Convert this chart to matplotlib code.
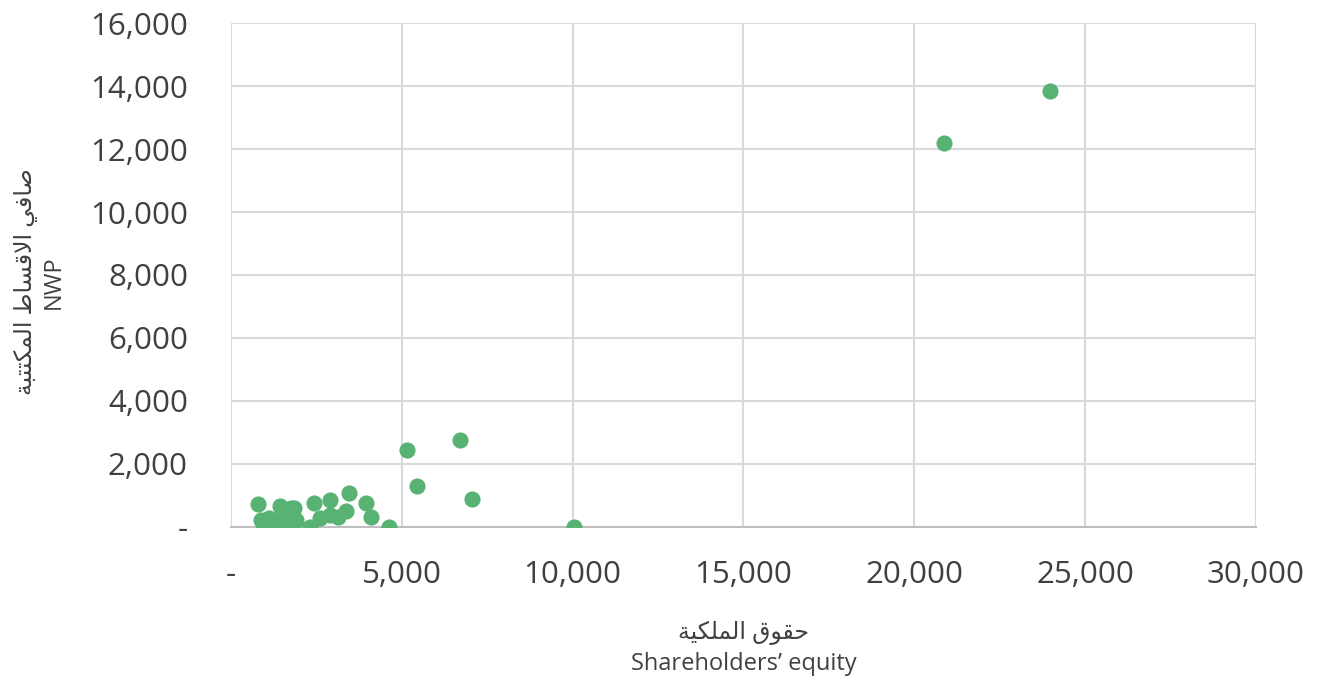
import matplotlib
matplotlib.use("Agg")
import matplotlib.pyplot as plt
from matplotlib.ticker import FuncFormatter

# shareholders' equity vs net written premiums
equity = [805, 1434, 1854, 2440, 2907, 3444, 3961, 4098, 4624, 3371,
          3122, 2888, 2615, 2312, 1902, 1610, 1512, 1649, 1317, 976,
          878, 1122, 1414, 1756, 1873, 5142, 6703, 5454, 7044, 10049,
          20873, 23971]
nwp = [730, 676, 613, 752, 857, 1090, 752, 307, 0, 518,
       307, 380, 275, 0, 222, 328, 487, 0, 0, 0,
       222, 275, 170, 600, 190, 2444, 2762, 1311, 889, 0,
       12190, 13841]

x_ticks = [0, 5000, 10000, 15000, 20000, 25000, 30000]
y_ticks = [0, 2000, 4000, 6000, 8000, 10000, 12000, 14000, 16000]

# Arabic labels written in presentation forms, visual order (matplotlib has no shaping)
x_label_ar = "\uFE94\uFEF4\uFEDC\uFEE0\uFEE4\uFEDF\uFE8D \uFED5\uFEEE\uFED8\uFEA3"
x_label_en = "Shareholders\u2019 equity"
y_label_ar = ("\uFE94\uFE92\uFE98\uFE98\uFEDC\uFEE4\uFEDF\uFE8D "
              "\uFEC1\uFE8E\uFEB4\uFED7\uFEFB\uFE8D "
              "\uFEF2\uFED3\uFE8E\uFEBB")
y_label_en = "NWP"

fonts = ["Open Sans", "DejaVu Sans"]
plt.rcParams["font.family"] = fonts

fig = plt.figure(figsize=(13.25, 6.79), dpi=100)
ax = fig.add_axes([0.1743, 0.2239, 0.7736, 0.7422])

ax.scatter(equity, nwp, s=135, color="#57B274", zorder=3, linewidths=0)

ax.set_xlim(0, 30000)
ax.set_ylim(0, 16000)
ax.set_xticks(x_ticks)
ax.set_yticks(y_ticks)

fmt = FuncFormatter(lambda v, p: "-" if v == 0 else f"{int(v):,}")
ax.xaxis.set_major_formatter(fmt)
ax.yaxis.set_major_formatter(fmt)
ax.tick_params(axis="both", length=0, labelsize=22.5, colors="#404040")
ax.tick_params(axis="x", pad=24)
ax.tick_params(axis="y", pad=31)

ax.grid(True, color="#D9D9D9", linewidth=1.5, zorder=0)
for side in ["top", "right", "left"]:
    ax.spines[side].set_visible(False)
ax.spines["bottom"].set_color("#BFBFBF")
ax.spines["bottom"].set_linewidth(1.5)
ax.spines["bottom"].set_zorder(2)

fig.text(0.561, 0.045, x_label_ar + "\n" + x_label_en, ha="center", va="center",
         fontsize=17, color="#404040", linespacing=1.4, family=fonts)
fig.text(0.03, 0.585, y_label_ar + "\n" + y_label_en, ha="center", va="center",
         rotation=90, fontsize=17, color="#404040", linespacing=1.2, family=fonts)

fig.savefig("out.png", dpi=100)
